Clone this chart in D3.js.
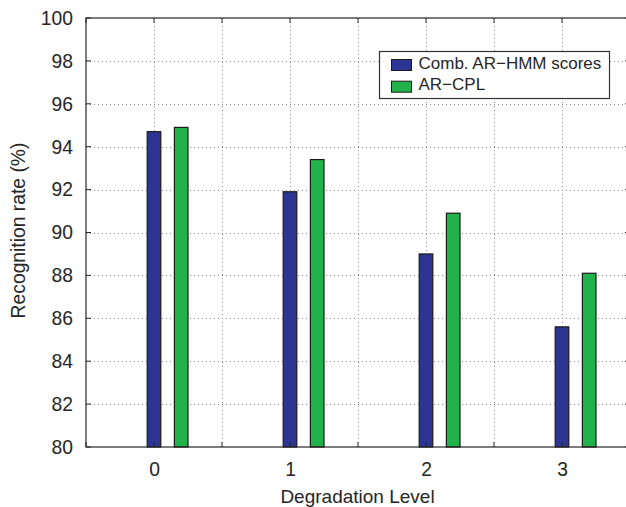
<!doctype html>
<html>
<head>
  <script src="https://cdnjs.cloudflare.com/ajax/libs/d3/7.8.5/d3.min.js"></script>
<style>
body { margin: 0; background: #fff; }
svg { display: block; overflow: hidden; }
text { font-family: "Liberation Sans", Arial, sans-serif; fill: #262626; }
.grid line { stroke: #8c8c8c; stroke-width: 1px; stroke-dasharray: 1,3; }
.frame { fill: none; stroke: #262626; stroke-width: 1.2px; }
.tick { stroke: #262626; stroke-width: 1px; }
</style>
</head>
<body>
<svg width="626" height="507"></svg>
<script>
var levels = [0, 1, 2, 3];
var arHmm = [94.7, 91.9, 89.0, 85.6];
var arCpl = [94.9, 93.4, 90.9, 88.1];
var seriesNames = ["Comb. AR\u2212HMM scores", "AR\u2212CPL"];
var seriesColors = ["#2c3593", "#22b24c"];
var xTicks = [-0.5, 0, 0.5, 1, 1.5, 2, 2.5, 3, 3.5];
var yTicks = [80, 82, 84, 86, 88, 90, 92, 94, 96, 98, 100];

var svg = d3.select("svg");
var pL = 86, pR = 630, pT = 18, pB = 447;

var x = d3.scaleLinear().domain([-0.5, 3.5]).range([pL, pR]);
var y = d3.scaleLinear().domain([80, 100]).range([pB, pT]);

// grid
var grid = svg.append("g").attr("class", "grid");
grid.selectAll(".gx")
  .data(xTicks.filter(t => t > -0.5 && t < 3.5))
  .enter().append("line")
  .attr("x1", d => Math.round(x(d)) + 0.5).attr("x2", d => Math.round(x(d)) + 0.5)
  .attr("y1", pT).attr("y2", pB);
grid.selectAll(".gy")
  .data(yTicks.filter(t => t > 80 && t < 100))
  .enter().append("line")
  .attr("y1", d => Math.round(y(d)) + 0.5).attr("y2", d => Math.round(y(d)) + 0.5)
  .attr("x1", pL).attr("x2", pR);

// bars
var barW = x(0.1) - x(0);
var series = [arHmm, arCpl];
var offsets = [0, 0.2];
series.forEach(function (vals, s) {
  svg.append("g")
    .selectAll("rect")
    .data(levels)
    .enter()
    .append("rect")
    .attr("x", (d, i) => x(d + offsets[s]) - barW / 2)
    .attr("width", barW)
    .attr("y", (d, i) => y(vals[i]))
    .attr("height", (d, i) => y(80) - y(vals[i]))
    .attr("fill", seriesColors[s])
    .attr("stroke", "#1a1a1a")
    .attr("stroke-width", 1.2);
});

// frame
svg.append("rect").attr("class", "frame")
  .attr("x", pL).attr("y", pT)
  .attr("width", pR - pL).attr("height", pB - pT);

// ticks
var tk = svg.append("g");
xTicks.forEach(function (t) {
  tk.append("line").attr("class", "tick")
    .attr("x1", x(t)).attr("x2", x(t)).attr("y1", pB).attr("y2", pB - 5);
  tk.append("line").attr("class", "tick")
    .attr("x1", x(t)).attr("x2", x(t)).attr("y1", pT).attr("y2", pT + 5);
});
yTicks.forEach(function (t) {
  tk.append("line").attr("class", "tick")
    .attr("x1", pL).attr("x2", pL + 5).attr("y1", y(t)).attr("y2", y(t));
  tk.append("line").attr("class", "tick")
    .attr("x1", pR).attr("x2", pR - 5).attr("y1", y(t)).attr("y2", y(t));
});

// tick labels
svg.append("g").selectAll("text")
  .data(yTicks).enter().append("text")
  .attr("x", pL - 13)
  .attr("y", d => y(d) + 6.8)
  .attr("text-anchor", "end")
  .style("font-size", "19.3px")
  .text(d => d);
svg.append("g").selectAll("text")
  .data(levels).enter().append("text")
  .attr("x", d => x(d) + 0.5)
  .attr("y", 475.5)
  .attr("text-anchor", "middle")
  .style("font-size", "19.3px")
  .text(d => d);

// axis labels
svg.append("text")
  .attr("x", (pL + pR) / 2 - 0.5)
  .attr("y", 502.5)
  .attr("text-anchor", "middle")
  .style("font-size", "19px")
  .text("Degradation Level");
svg.append("text")
  .attr("transform", "translate(25," + 230.5 + ") rotate(-90)")
  .attr("text-anchor", "middle")
  .style("font-size", "19.3px")
  .text("Recognition rate (%)");

// legend
var lg = svg.append("g");
lg.append("rect")
  .attr("x", 379.5).attr("y", 51.5).attr("width", 230).attr("height", 47)
  .attr("fill", "#fff").attr("stroke", "#333").attr("stroke-width", 1.2);
seriesNames.forEach(function (name, i) {
  lg.append("rect")
    .attr("x", 391.5).attr("y", 59.5 + i * 21.7)
    .attr("width", 20).attr("height", 11)
    .attr("fill", seriesColors[i]).attr("stroke", "#1a1a1a").attr("stroke-width", 1);
  lg.append("text")
    .attr("x", 418.5).attr("y", 68.5 + i * 21.7)
    .style("font-size", "17px")
    .text(name);
});
</script>
</body>
</html>
